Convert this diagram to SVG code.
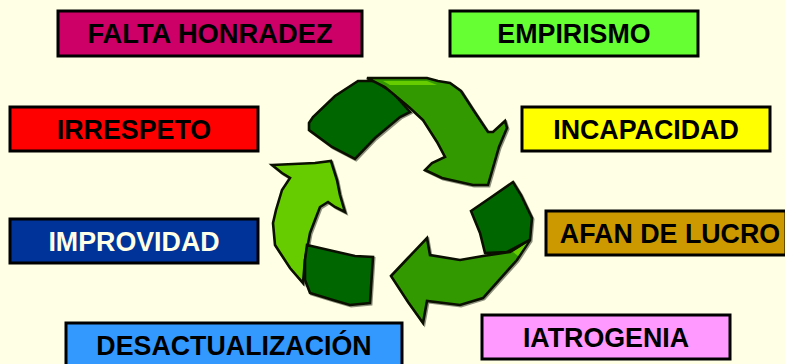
<svg xmlns="http://www.w3.org/2000/svg" width="785" height="364" viewBox="0 0 785 364">
<defs>
<g id="shapes">
<polygon class="dark" points="309,123 309,130 332,147 355,159 375,138 400,117 410,112 393,93 375,81 358,81 335,96 313,117"/>
<polygon class="mid" points="367,78 427,78 438,81 450,83 461,91 474,111 488,132 493,132 505,121 507,128 499,147 488,185 473,185 442,178 425,170 432,163 445,157 437,142 423,120 410,108 385,87"/>
<polygon class="light" points="272,165 315,163 331,161 337,180 340,195 345,212 335,207 328,202 320,207 315,220 310,233 305,260 303,283 290,268 275,245 273,223 276,210 282,190 290,178 282,173"/>
<polygon class="dark" points="307,245 333,251 355,256 373,257 370,303 350,305 333,300 310,293 305,280 305,260"/>
<polygon class="dark" points="471,211 490,198 513,182 521,195 532,218 530,240 507,252 485,253 480,233"/>
<polygon class="mid" points="427,238 430,255 460,260 483,256 510,252 530,240 517,260 483,298 460,305 427,301 423,323 408,302 391,276 408,258"/>
</g>
</defs>
<style>
.box{stroke:#000;stroke-width:3}
.t{font-family:"Liberation Sans",Arial,sans-serif;font-weight:700;font-size:26.8px;text-anchor:middle;fill:#000}
.dark{fill:#006600;stroke:#0a0f00;stroke-width:2.6;stroke-linejoin:miter}
.mid{fill:#339900;stroke:#0a0f00;stroke-width:2.6;stroke-linejoin:miter}
.light{fill:#66cc00;stroke:#0a0f00;stroke-width:2.6;stroke-linejoin:miter}
.hi{fill:#66cc00}
</style>
<rect width="785" height="364" fill="#ffffe5"/>
<g id="recycle">
<use href="#shapes" x="1.2" y="1.2" opacity="0.45"/>
<use href="#shapes"/>
<polygon class="hi" points="383,81 427,81 437,85 405,85 390,85"/>
<polygon class="hi" points="513,252 527,243 518,256"/>
</g>
<g id="falta-honradez"><rect class="box" x="58" y="11" width="304" height="45" fill="#cc0066"/><text class="t" x="210" y="43" style="font-size:27.3px">FALTA HONRADEZ</text></g>
<g id="empirismo"><rect class="box" x="450" y="11" width="248" height="45" fill="#66ff33"/><text class="t" x="574" y="43">EMPIRISMO</text></g>
<g id="irrespeto"><rect class="box" x="10" y="107" width="248" height="44" fill="#ff0000"/><text class="t" x="134" y="139">IRRESPETO</text></g>
<g id="incapacidad"><rect class="box" x="522" y="107" width="248" height="44" fill="#ffff00"/><text class="t" x="646" y="139">INCAPACIDAD</text></g>
<g id="afan-de-lucro"><rect class="box" x="546" y="211" width="240" height="44" fill="#cc9900"/><text class="t" x="670" y="243">AFAN DE LUCRO</text></g>
<g id="improvidad"><rect class="box" x="10" y="219" width="248" height="44" fill="#003399"/><text class="t" x="134" y="251" style="fill:#ffffe5">IMPROVIDAD</text></g>
<g id="iatrogenia"><rect class="box" x="482" y="315" width="248" height="44" fill="#ff99ff"/><text class="t" x="606" y="347">IATROGENIA</text></g>
<g id="desactualizacion"><rect class="box" x="66" y="323" width="336" height="46" fill="#3399ff"/><text class="t" x="234" y="355">DESACTUALIZACIÓN</text></g>
</svg>
